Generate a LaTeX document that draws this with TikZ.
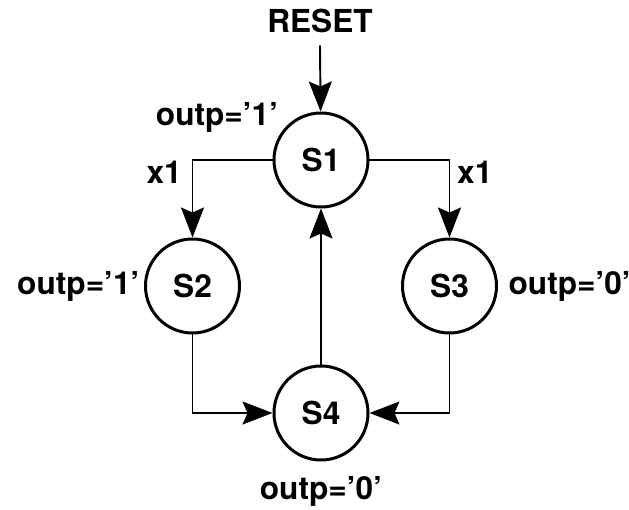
\documentclass[tikz,border=0pt]{standalone}
\usepackage{fontspec}
\setmainfont{TeX Gyre Heros}
\usepackage{tikz}
\usetikzlibrary{arrows.meta,positioning}

\begin{document}
\begin{tikzpicture}[
    state/.style={draw,circle,line width=1.7pt,minimum size=1.88cm,inner sep=0pt,font=\fontsize{18}{20}\selectfont\bfseries},
    lbl/.style={inner sep=1pt,font=\fontsize{18}{20}\selectfont\bfseries},
    edge/.style={line width=1.1pt},
    >={Stealth[length=0.6cm,width=0.46cm,inset=0.1cm]}
]
\useasboundingbox (0,0) rectangle (12.58,10.18);

\node[state] (s1) at (6.42,6.98) {S1};
\node[state] (s2) at (3.85,4.46) {S2};
\node[state] (s3) at (8.99,4.46) {S3};
\node[state] (s4) at (6.42,1.92) {S4};

\node[lbl,anchor=base] (reset) at (6.40,9.52) {RESET};

\draw[->,edge] ([yshift=-0.2cm]reset.south) -- (s1);
\draw[->,edge] (s1.west) -| node[lbl,pos=0.58,left=0.16cm] {x1} (s2);
\draw[->,edge] (s1.east) -| node[lbl,pos=0.58,right=0.1cm] {x1} (s3);
\draw[->,edge] (s2) |- (s4);
\draw[->,edge] (s3) |- (s4);
\draw[->,edge] (s4) -- (s1);

\node[lbl,anchor=base east] (out1) at ([xshift=-0.13cm]s1.north west) {outp='1'};
\node[lbl,left=0.05cm of s2] (out2) {outp='1'};
\node[lbl,right=0.17cm of s3] (out3) {outp='0'};
\node[lbl,below=0.25cm of s4] (out4) {outp='0'};
\end{tikzpicture}
\end{document}
